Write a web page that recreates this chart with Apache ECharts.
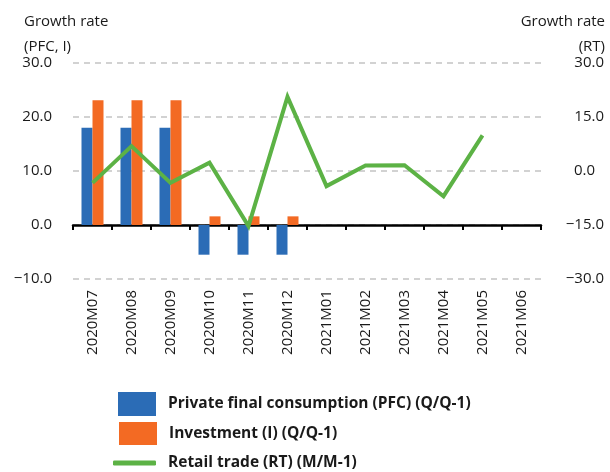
<!DOCTYPE html>
<html>
<head>
<meta charset="utf-8">
<script src="https://cdn.jsdelivr.net/npm/echarts@6/dist/echarts.min.js"></script>
<style>
  html, body { margin: 0; padding: 0; background: #ffffff; }
  #chart { width: 610px; height: 472px; }
</style>
</head>
<body>
<div id="chart"></div>
<script>
// Monthly categories
var months = ['2020M07', '2020M08', '2020M09', '2020M10', '2020M11', '2020M12',
              '2021M01', '2021M02', '2021M03', '2021M04', '2021M05', '2021M06'];

// Quarterly growth, repeated over each quarter's months (left axis)
var pfcGrowth = [18.0, 18.0, 18.0, -5.5, -5.5, -5.5, null, null, null, null, null, null];
var investmentGrowth = [23.1, 23.1, 23.1, 1.6, 1.6, 1.6, null, null, null, null, null, null];

// Monthly retail trade growth (right axis)
var retailGrowth = [-3.3, 6.9, -3.3, 2.3, -15.3, 20.6, -4.2, 1.5, 1.6, -7.0, 9.9, null];

// Axis ranges
var leftAxisRange = { min: -10, max: 30, step: 10 };
var rightAxisRange = { min: -30, max: 30, step: 15 };

var seriesNames = [
  'Private final consumption (PFC) (Q/Q-1)',
  'Investment (I) (Q/Q-1)',
  'Retail trade (RT) (M/M-1)'
];

var FONT = '"Open Sans", "Noto Sans", sans-serif';
var BLUE = '#2b6cb6';
var ORANGE = '#f36a23';
var GREEN = '#5cb245';
var TEXT = '#1a1a1a';

function fmt(v) {
  var s = Math.abs(v).toFixed(1);
  return v < 0 ? '\u2212' + s : s;
}

var chart = echarts.init(document.getElementById('chart'), null, { renderer: 'canvas' });

var legendText = {
  fontFamily: FONT, fontSize: 15.5, fontWeight: 'bold', color: TEXT,
  padding: [0, 0, 0, 7]
};

chart.setOption({
  animation: false,
  backgroundColor: '#ffffff',
  title: [
    {
      text: 'Growth rate\n(PFC, I)',
      left: 24, top: 9, padding: 0,
      textStyle: { fontFamily: FONT, fontSize: 15, fontWeight: 'normal', color: TEXT, lineHeight: 25 }
    },
    {
      text: 'Growth rate\n(RT)',
      left: 605, top: 9, padding: 0, textAlign: 'right',
      textStyle: { fontFamily: FONT, fontSize: 15, fontWeight: 'normal', color: TEXT, lineHeight: 25 }
    }
  ],
  grid: { left: 73, right: 69, top: 63, bottom: 193, containLabel: false },
  legend: [
    {
      data: [{ name: seriesNames[0], icon: 'rect' }],
      left: 118, top: 392, padding: 0,
      itemWidth: 38, itemHeight: 24,
      textStyle: legendText, selectedMode: false
    },
    {
      data: [{ name: seriesNames[1], icon: 'rect' }],
      left: 119, top: 422, padding: 0,
      itemWidth: 38, itemHeight: 23,
      textStyle: legendText, selectedMode: false
    },
    {
      data: [{ name: seriesNames[2], icon: 'roundRect' }],
      left: 113, top: 455, padding: 0,
      itemWidth: 43, itemHeight: 5,
      textStyle: legendText, selectedMode: false
    }
  ],
  xAxis: {
    type: 'category',
    data: months,
    boundaryGap: true,
    axisLine: { onZero: true, lineStyle: { color: '#000000', width: 2.5 } },
    axisTick: { show: true, length: 5, lineStyle: { color: '#000000', width: 2 }, alignWithLabel: false },
    axisLabel: {
      rotate: 90, margin: 11, interval: 0,
      fontFamily: FONT, fontSize: 15, color: TEXT
    },
    splitLine: { show: false }
  },
  yAxis: [
    {
      type: 'value',
      position: 'left',
      min: leftAxisRange.min, max: leftAxisRange.max, interval: leftAxisRange.step,
      axisLine: { show: false },
      axisTick: { show: false },
      axisLabel: {
        margin: 21, fontFamily: FONT, fontSize: 15, color: TEXT,
        formatter: function (v) { return fmt(v); }
      },
      splitLine: { show: true, lineStyle: { color: '#c4c4c4', width: 1.5, type: [6, 5] } }
    },
    {
      type: 'value',
      position: 'right',
      min: rightAxisRange.min, max: rightAxisRange.max, interval: rightAxisRange.step,
      axisLine: { show: false },
      axisTick: { show: false },
      axisLabel: {
        margin: 63, align: 'right', fontFamily: FONT, fontSize: 15, color: TEXT,
        formatter: function (v) {
          var s = fmt(v);
          return (v >= 0 && v < 10) ? '{p|' + s + '}' : s;
        },
        rich: { p: { fontFamily: FONT, fontSize: 15, color: TEXT, padding: [0, 9, 0, 0] } }
      },
      splitLine: { show: false }
    }
  ],
  series: [
    {
      name: seriesNames[0],
      type: 'bar',
      data: pfcGrowth,
      barWidth: 11,
      barGap: '0%',
      itemStyle: { color: BLUE },
      z: 2
    },
    {
      name: seriesNames[1],
      type: 'bar',
      data: investmentGrowth,
      barWidth: 11,
      barGap: '0%',
      itemStyle: { color: ORANGE },
      z: 2
    },
    {
      name: seriesNames[2],
      type: 'line',
      yAxisIndex: 1,
      data: retailGrowth,
      symbol: 'none',
      connectNulls: false,
      lineStyle: { color: GREEN, width: 4, join: 'miter' },
      itemStyle: { color: GREEN },
      z: 5
    }
  ]
});
</script>
</body>
</html>
